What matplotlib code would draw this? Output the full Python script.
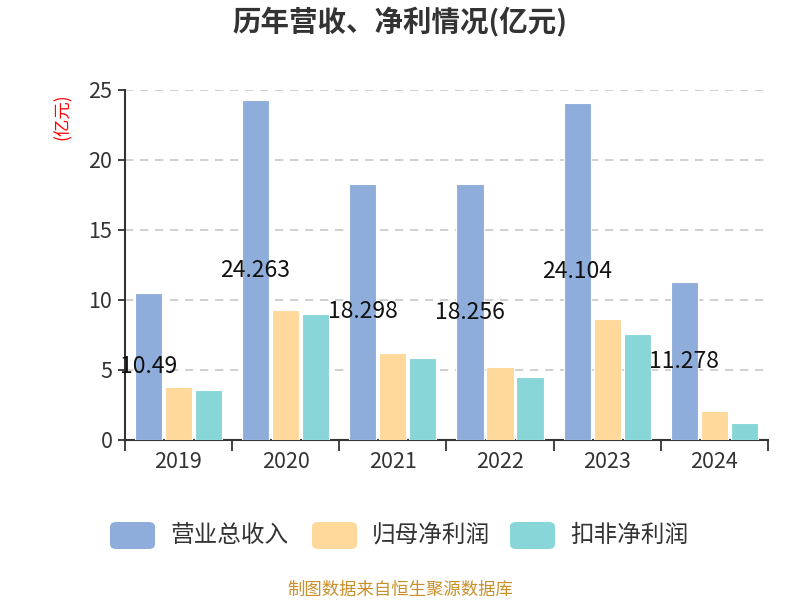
import matplotlib
matplotlib.use("Agg")
import matplotlib.pyplot as plt
from matplotlib.patches import FancyBboxPatch
import numpy as np

plt.rcParams['font.family'] = ['Noto Sans CJK SC', 'DejaVu Sans']

years = ['2019', '2020', '2021', '2022', '2023', '2024']
revenue = [10.49, 24.263, 18.298, 18.256, 24.104, 11.278]
net_profit = [3.76, 9.26, 6.24, 5.19, 8.62, 2.05]
deducted_profit = [3.6, 9.0, 5.86, 4.52, 7.6, 1.21]
series_names = ['营业总收入', '归母净利润', '扣非净利润']
colors = ['#8eaddb', '#ffd89b', '#88d6d8']

fig = plt.figure(figsize=(8, 6), dpi=100)
ax = fig.add_axes([0.156, 0.2667, 0.804, 0.5833])

x = np.arange(len(years))
w = 0.255
step = 0.28
for i, (vals, c) in enumerate(zip([revenue, net_profit, deducted_profit], colors)):
    ax.bar(x + (i - 1) * step, vals, width=w, color=c, edgecolor='white', linewidth=0.8, zorder=3)

for xi, v in zip(x, revenue):
    ax.text(xi - step, v / 2, f'{v:g}', ha='center', va='center', fontsize=16.5, color='#111111', zorder=5)

ax.set_xlim(-0.5, len(years) - 0.5)
ax.set_ylim(0, 25)
ax.set_yticks([0, 5, 10, 15, 20, 25])
ax.yaxis.grid(True, linestyle=(0, (5, 4)), color='#c8c8c8', linewidth=1.2, zorder=0)
ax.set_xticks(x)
ax.set_xticklabels(years)
ax.set_xticks(np.arange(-0.5, len(years)), minor=True)
ax.tick_params(axis='x', which='major', length=0, labelsize=15.5, labelcolor='#333333', pad=8)
ax.tick_params(axis='x', which='minor', length=8, width=1.3, color='#333333')
ax.tick_params(axis='y', length=5, width=1.3, color='#333333', labelsize=15.5, labelcolor='#333333', pad=4)
for s in ['top', 'right']:
    ax.spines[s].set_visible(False)
for s in ['left', 'bottom']:
    ax.spines[s].set_color('#333333')
    ax.spines[s].set_linewidth(1.5)

fig.text(0.5, 0.963, '历年营收、净利情况(亿元)', ha='center', va='center', fontsize=20.5, fontweight='bold', color='#333333')
fig.text(0.078, 0.805, '(亿元)', ha='center', va='center', rotation=90, fontsize=12.5, color='red')

# legend
lx = [110, 312, 510]
for px, name, c in zip(lx, series_names, colors):
    patch = FancyBboxPatch((px / 800, 1 - 549 / 600), 45 / 800, 27 / 600,
                           boxstyle='round,pad=0,rounding_size=0.008', transform=fig.transFigure,
                           facecolor=c, edgecolor='none')
    fig.add_artist(patch)
    fig.text((px + 60) / 800, 1 - 535 / 600, name, ha='left', va='center', fontsize=17, color='#333333')

fig.text(0.5, 1 - 590 / 600, '制图数据来自恒生聚源数据库', ha='center', va='center', fontsize=12.5, color='#c9902a')

fig.savefig('out.png', dpi=100)
